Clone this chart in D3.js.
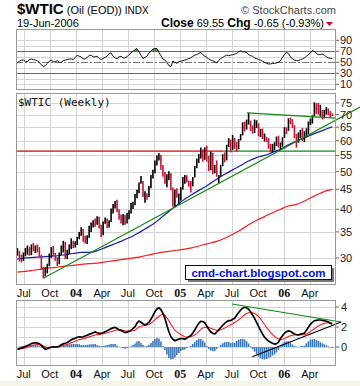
<!DOCTYPE html>
<html><head><meta charset="utf-8">
<script src="https://cdn.jsdelivr.net/npm/d3@7"></script>
<style>body{margin:0;background:#fff}svg{display:block}</style>
</head><body><svg id="c" width="360" height="386"></svg>
<script>
// ---------- DATA ----------
const firstWeek = "2003-06-09";
const highs = [31.8,31.3,30.6,31.0,31.8,32.3,32.0,32.5,32.8,32.3, 32.5,32.0,30.6,28.5,28.4,29.0,30.8,32.0,32.2,30.9,
30.2,31.0,32.3,33.2,33.0,31.5,32.5,33.7,33.2,33.1, 34.0,35.0,36.0,35.6,34.2,34.3,36.3,37.0,37.5,37.9,
38.4,38.3,36.5,37.2,38.1,37.9,37.5,40.2,41.3,42.0, 42.3,40.0,38.8,38.9,38.7,39.2,39.8,41.5,41.8,43.8,
44.9,46.9,48.7,47.3,44.5,44.0,45.9,49.0,50.5,53.4, 55.0,55.7,55.2,52.0,49.9,49.2,50.1,49.5,45.5,45.0,
45.3,43.9,45.6,48.4,49.0,48.9,47.4,47.3,48.4,51.7, 54.0,55.5,57.6,57.0,57.7,58.3,54.9,56.3,55.9,52.0,
53.4,49.0,52.0,55.4,56.0,58.6,60.9,60.4,62.1,61.0, 59.6,60.6,62.4,66.9,67.1,68.0,70.8,67.6,65.7,68.0,
67.7,66.5,64.4,64.5,62.6,61.4,61.0,58.9,58.9,59.5, 61.5,61.8,59.4,61.2,65.0,64.9,68.5,68.8,68.2,65.8,
62.4,63.0,64.0,64.7,63.4,64.6,67.2,68.4,69.7,75.3, 74.9,75.0,74.2,72.0,72.0,73.2,72.6,71.5,70.6];
const lows = [30.4,29.4,29.2,29.5,30.3,30.6,30.4,30.5,31.2,30.9, 31.0,30.2,28.0,26.6,26.9,27.4,28.6,30.0,30.4,29.5,
28.6,28.9,30.5,31.0,29.8,29.8,30.7,31.6,31.8,31.9, 32.4,33.5,34.2,33.0,32.7,32.6,33.8,35.0,35.9,36.1,
36.5,35.7,33.9,34.3,36.7,35.8,35.9,37.1,39.0,40.2, 39.3,37.6,36.8,36.4,36.5,36.8,37.7,39.0,40.1,41.0,
42.7,44.0,46.5,43.0,41.6,42.3,43.0,45.3,48.0,49.5, 51.8,53.4,50.5,48.5,46.5,45.6,47.5,44.8,40.6,40.5,
42.8,41.2,42.1,45.0,46.5,46.9,45.7,44.2,45.8,48.3, 51.0,52.6,54.0,53.0,53.6,53.0,50.1,50.4,49.2,49.5,
48.5,46.6,48.6,51.6,52.8,53.4,57.8,56.0,56.8,57.2, 56.2,57.0,60.1,61.9,63.4,64.1,66.0,63.6,62.6,62.8,
64.7,61.6,61.3,60.6,59.7,59.5,57.2,56.0,56.2,56.7, 58.2,57.6,57.0,57.9,61.0,62.4,63.6,66.1,64.6,60.9,
57.6,59.3,60.8,59.9,59.5,61.3,62.3,65.8,66.4,69.3, 70.3,70.0,69.2,68.0,68.4,70.0,69.8,68.8,69.4];
const closes = [31.2,30.0,29.9,30.8,31.1,31.9,30.7,32.3,31.5,31.7, 31.4,30.4,28.3,27.0,28.1,28.7,30.5,31.3,30.7,29.9,
29.2,30.9,31.3,32.7,30.4,31.0,32.1,33.0,32.5,32.6, 33.8,34.6,35.2,33.1,33.0,33.9,35.6,36.2,37.3,36.4,
38.1,35.8,34.4,37.1,37.7,36.5,37.3,39.9,40.0,41.4, 39.9,38.5,37.6,38.7,37.0,38.4,39.5,40.9,41.6,43.6,
44.4,46.6,47.9,43.2,43.9,42.9,45.6,48.9,50.1,53.3, 54.9,55.2,51.8,49.6,47.3,48.4,49.4,45.4,41.0,44.3,
43.4,43.5,45.4,48.4,48.5,47.2,46.5,45.5,48.4,51.5, 53.8,54.4,56.7,54.4,57.3,53.3,50.5,55.4,49.7,50.9,
48.7,48.7,51.9,55.0,53.5,58.5,59.8,56.5,59.6,58.1, 57.5,60.6,62.3,66.9,65.4,66.1,67.6,64.1,63.0,64.2,
66.2,61.8,62.6,60.7,61.3,60.6,57.5,56.3,58.7,59.3, 61.4,58.1,58.4,61.0,64.2,63.9,68.4,67.8,65.4,61.1,
59.9,61.1,63.7,60.0,62.6,64.2,66.6,67.4,69.3,75.2, 71.9,70.2,72.0,68.5,71.4,72.3,71.1,70.2,69.55];
const rsi = [49,52,54,54,52,51,55,56,55,54, 53,49,46,42,44,48,52,54,51,51, 53,50,50,53,54,55,56,56,55,59,
63,61,60,56,56,59,62,63,60,60, 61,57,55,57,59,61,66,67,61,58, 57,60,61,58,58,60,64,67,70,73,
75,69,63,57,59,61,67,70,74,75, 75,68,62,56,54,50,44,42,52,50, 48,51,52,53,54,55,57,58,61,63,
64,66,68,64,61,59,56,54,53,51, 49,53,57,59,61,63,62,63,64,65, 66,69,71,69,69,68,64,62,61,58,
57,55,54,52,50,48,47,47,48,48, 49,50,53,59,64,68,66,60,56,54, 53,53,55,56,58,61,64,67,71,70,
66,64,64,65,63,60,58,57,57];
const macd = [-0.22,-0.16,-0.09,-0.04,0.05,0.14,0.23,0.34,0.40,0.43, 0.40,0.32,0.15,-0.03,-0.22,-0.17,-0.10,0.00,0.02,0.00,
0.02,0.08,0.22,0.31,0.37,0.46,0.58,0.72,0.81,0.87, 0.97,1.02,0.98,1.02,1.10,1.18,1.26,1.34,1.42,1.50,
1.42,1.37,1.37,1.43,1.53,1.63,1.73,1.84,1.91,1.97, 1.85,1.73,1.66,1.55,1.43,1.49,1.56,1.67,1.83,2.03,
2.39,2.60,2.47,2.33,2.20,2.30,2.47,2.77,3.13,3.53, 3.80,3.92,3.75,3.37,2.87,2.17,1.53,1.03,0.77,0.63,
0.71,0.79,0.85,0.83,0.77,0.89,1.02,1.15,1.40,1.70, 2.06,2.37,2.56,2.55,2.43,2.10,1.77,1.52,1.38,1.30,
1.50,1.71,1.95,2.17,2.37,2.53,2.63,2.63,2.78,2.87, 3.17,3.45,3.69,3.89,3.97,3.91,3.78,3.52,3.20,2.87,
2.47,2.07,1.66,1.30,0.97,0.77,0.59,0.47,0.38,0.30, 0.34,0.49,0.85,1.13,1.37,1.53,1.61,1.56,1.43,1.30,
1.25,1.21,1.28,1.33,1.37,1.67,1.97,2.27,2.47,2.63, 2.67,2.70,2.70,2.67,2.63,2.57,2.50,2.37,2.30];
const signal = [-0.24,-0.21,-0.17,-0.14,-0.09,-0.03,0.03,0.12,0.18,0.23, 0.25,0.24,0.20,0.12,0.00,-0.04,-0.04,-0.02,-0.01,-0.01,
0.00,0.03,0.10,0.15,0.20,0.26,0.33,0.42,0.51,0.58, 0.67,0.74,0.78,0.84,0.90,0.96,1.01,1.07,1.14,1.20,
1.24,1.25,1.29,1.33,1.38,1.43,1.48,1.54,1.61,1.67, 1.70,1.70,1.69,1.65,1.61,1.59,1.59,1.60,1.63,1.68,
1.84,2.00,2.07,2.13,2.15,2.20,2.25,2.37,2.53,2.73, 2.90,3.07,3.20,3.27,3.17,2.92,2.63,2.28,1.97,1.68,
1.51,1.39,1.25,1.13,1.02,0.99,1.00,1.05,1.10,1.20, 1.36,1.57,1.76,1.90,1.98,2.00,1.97,1.87,1.80,1.72,
1.68,1.69,1.73,1.79,1.89,2.01,2.13,2.23,2.33,2.45, 2.57,2.72,2.89,3.07,3.22,3.34,3.43,3.45,3.42,3.34,
3.22,3.05,2.81,2.52,2.22,1.97,1.71,1.47,1.24,1.05, 0.89,0.79,0.75,0.78,0.85,0.95,1.05,1.13,1.18,1.20,
1.20,1.20,1.20,1.22,1.24,1.30,1.40,1.54,1.69,1.83, 1.97,2.10,2.22,2.30,2.36,2.40,2.42,2.42,2.40];
const maWeeks = [0,4,8,12,16,20,24,28,32,36, 40,44,48,52,56,60,64,68,72,76, 80,84,88,92,96,100,104,108,112,116,
120,124,128,132,136,140,144,148,152,156, 158];
const ma50 = [29.8,30.0,30.1,30.2,30.3,30.4,30.6,30.8,31.0,31.0, 31.3,31.9,32.5,33.1,33.8,34.6,35.6,36.6,38.0,39.5,
41.0,42.5,43.8,45.0,46.3,47.8,49.2,50.5,51.8,53.2, 54.3,55.0,56.0,57.0,58.6,59.9,61.0,62.3,63.4,64.6, 65.1];
const ma200 = [27.6,27.7,27.9,28.1,28.3,28.4,28.6,28.7,28.9,29.0, 29.1,29.3,29.5,29.7,29.9,30.1,30.4,30.7,31.0,31.2,
31.4,31.6,31.9,32.3,32.7,33.1,33.7,34.5,35.4,36.5, 37.5,38.3,39.2,40.0,40.8,41.2,42.0,43.0,44.0,44.8, 45.0];
const priceTicks = [30,35,40,45,50,55,60,65,70,75];
const rsiTicks = [90,70,50,30,10];
const macdTicks = [4,2,0];
const upTrend = [["2003-09-08",26.6],["2006-06-19",67.0]];
const resistance = [["2005-08-24",70.7],["2006-07-02",68.6]];
const supportLevel = 56.4, supportRedUntil = "2005-06-03";
const macdDown = [["2005-07-02",4.3],["2006-07-20",2.5]];
const macdUp = [["2005-09-11",-0.97],["2006-07-20",2.5]];

// ---------- LAYOUT ----------
const L = 16, R = 336;
const P = {rsi:[29,90], price:[93,285], macd:[300,366]};
const svg = d3.select("#c");
const pd = d3.timeParse("%Y-%m-%d");
const start = pd(firstWeek);
const dates = closes.map((_, i) => d3.timeDay.offset(start, 7 * i));
const x = d3.scaleTime().domain([pd("2003-06-04"), pd("2006-07-02")]).range([L, R]);
const yP = d3.scaleLog().domain([25.57, 79.55]).range([285, 93]);
const yR = d3.scaleLinear().domain([0, 100]).range([89.8, 34.8]);
const yM = d3.scaleLinear().domain([-1.9, 4.7]).range([366, 300]);
const font = "Liberation Sans, Arial, sans-serif";

svg.append("rect").attr("width",360).attr("height",386).attr("fill","#fff");
svg.append("rect").attr("x",0).attr("y",381).attr("width",360).attr("height",5).attr("fill","#f6f5e6");

const defs = svg.append("defs");
Object.entries(P).forEach(([k,[t,b]]) => {
  defs.append("clipPath").attr("id","clip-"+k).append("rect").attr("x",L).attr("y",t).attr("width",R-L).attr("height",b-t);
});

const quarters = d3.timeMonth.every(3).range(x.domain()[0], x.domain()[1]);

function gridPanel(key, yScale, ticks) {
  const [t,b] = P[key];
  const g = svg.append("g");
  quarters.forEach(d => {
    const xx = Math.round(x(d)) + 0.5;
    if (xx > L + 1 && xx < R - 1)
      g.append("line").attr("x1",xx).attr("x2",xx).attr("y1",t).attr("y2",b).attr("stroke","#d4d4d4");
  });
  ticks.forEach(v => {
    const yy = Math.round(yScale(v)) + 0.5;
    g.append("line").attr("x1",L).attr("x2",R).attr("y1",yy).attr("y2",yy).attr("stroke","#d4d4d4");
  });
  return g;
}

// ---- RSI panel ----
gridPanel("rsi", yR, [10,20,40,60,80,90]);
[70,30].forEach(v => svg.append("line").attr("x1",L).attr("x2",R).attr("y1",Math.round(yR(v))+0.5).attr("y2",Math.round(yR(v))+0.5).attr("stroke","#666"));
svg.append("line").attr("x1",L).attr("x2",R).attr("y1",Math.round(yR(50))+0.5).attr("y2",Math.round(yR(50))+0.5)
  .attr("stroke","#777").attr("stroke-dasharray","7,2,2,2");
const rsiG = svg.append("g").attr("clip-path","url(#clip-rsi)");
defs.append("clipPath").attr("id","clip-ob").append("rect").attr("x",L).attr("y",P.rsi[0]).attr("width",R-L).attr("height",yR(70)-P.rsi[0]);
rsiG.append("path").datum(rsi).attr("clip-path","url(#clip-ob)")
  .attr("d", d3.area().x((d,i)=>x(dates[i])).y0(yR(70)).y1(d=>yR(d))).attr("fill","#4c9a4c");
rsiG.append("path").datum(rsi).attr("d", d3.line().x((d,i)=>x(dates[i])).y(d=>yR(d)))
  .attr("fill","none").attr("stroke","#111").attr("stroke-width",1);
rsiTicks.forEach(v => {
  svg.append("line").attr("x1",R).attr("x2",R+3).attr("y1",yR(v)).attr("y2",yR(v)).attr("stroke","#666");
  svg.append("text").attr("x",R+4).attr("y",yR(v)+4).attr("font-family",font).attr("font-size",11).attr("fill","#222").text(v);
});

// ---- Price panel ----
gridPanel("price", yP, priceTicks);
const pg = svg.append("g").attr("clip-path","url(#clip-price)");
// support line (red then green)
const ys = yP(supportLevel);
pg.append("line").attr("x1",L).attr("x2",x(pd(supportRedUntil))).attr("y1",ys).attr("y2",ys).attr("stroke","#e00000").attr("stroke-width",1.2);
pg.append("line").attr("x1",x(pd(supportRedUntil))).attr("x2",R).attr("y1",ys).attr("y2",ys).attr("stroke","#118811").attr("stroke-width",1.2);
// moving averages
const maLine = arr => d3.line().curve(d3.curveMonotoneX).x((d,k)=>x(dates[maWeeks[k]])).y(d=>yP(d))(arr);
pg.append("path").attr("d", maLine(ma200)).attr("fill","none").attr("stroke","#ff1a1a").attr("stroke-width",1.2);
pg.append("path").attr("d", maLine(ma50)).attr("fill","none").attr("stroke","#1c1caa").attr("stroke-width",1.2);
// bars
closes.forEach((c,i) => {
  const up = i === 0 || c >= closes[i-1];
  const xx = x(dates[i]);
  pg.append("line").attr("x1",xx).attr("x2",xx).attr("y1",yP(highs[i])).attr("y2",yP(lows[i]))
    .attr("stroke", up ? "#000" : "#cc1133").attr("stroke-width",1.6);
});
// resistance line
pg.append("line").attr("x1",x(pd(resistance[0][0]))).attr("y1",yP(resistance[0][1]))
  .attr("x2",x(pd(resistance[1][0]))).attr("y2",yP(resistance[1][1])).attr("stroke","#118811").attr("stroke-width",1.2);
// rising trend line, extended to the picture edge
function extended(pts, xs, ys, xEnd) {
  const p1=[xs(pd(pts[0][0])), ys(pts[0][1])], p2=[xs(pd(pts[1][0])), ys(pts[1][1])];
  const s=(p2[1]-p1[1])/(p2[0]-p1[0]);
  return [p1, [xEnd, p1[1]+s*(xEnd-p1[0])]];
}
const ut = extended(upTrend, x, yP, 360);
svg.append("line").attr("x1",ut[0][0]).attr("y1",ut[0][1]).attr("x2",ut[1][0]).attr("y2",ut[1][1]).attr("stroke","#118811").attr("stroke-width",1.1);
svg.append("text").attr("x",18).attr("y",106).attr("font-family","DejaVu Sans Mono, monospace").attr("font-size",11).attr("fill","#111").text("$WTIC (Weekly)");
priceTicks.forEach(v => {
  svg.append("line").attr("x1",R).attr("x2",R+3).attr("y1",yP(v)).attr("y2",yP(v)).attr("stroke","#666");
  svg.append("text").attr("x",R+4).attr("y",yP(v)+4).attr("font-family",font).attr("font-size",11).attr("fill","#222").text(v);
});

// watermark box
svg.append("rect").attr("x",188).attr("y",268).attr("width",146).attr("height",14).attr("fill","#777");
svg.append("rect").attr("x",185.5).attr("y",265.5).attr("width",146).attr("height",14).attr("fill","#fff").attr("stroke","#111");
svg.append("text").attr("x",258.5).attr("y",277).attr("text-anchor","middle").attr("font-family",font).attr("font-weight","bold")
  .attr("font-size",11.5).attr("fill","#0010e0").text("cmd-chart.blogspot.com");

// ---- MACD panel ----
gridPanel("macd", yM, [-1,1,3,4,2,0]);
const mg = svg.append("g").attr("clip-path","url(#clip-macd)");
macd.forEach((m,i) => {
  const h = m - signal[i];
  const xx = x(dates[i]);
  mg.append("rect").attr("x",xx-0.8).attr("width",1.6).attr("y",yM(Math.max(h,0))).attr("height",Math.abs(yM(h)-yM(0)))
    .attr("fill","#3f7ab8");
});
mg.append("path").datum(signal).attr("d", d3.line().x((d,i)=>x(dates[i])).y(d=>yM(d))).attr("fill","none").attr("stroke","#ff1a1a").attr("stroke-width",1.1);
mg.append("path").datum(macd).attr("d", d3.line().x((d,i)=>x(dates[i])).y(d=>yM(d))).attr("fill","none").attr("stroke","#000").attr("stroke-width",1.7);
[[macdDown,"#118811"],[macdUp,"#000"]].forEach(([pts,col]) => {
  svg.append("line").attr("x1",x(pd(pts[0][0]))).attr("y1",yM(pts[0][1])).attr("x2",x(pd(pts[1][0]))).attr("y2",yM(pts[1][1]))
    .attr("stroke",col).attr("stroke-width",1.1);
});
macdTicks.forEach(v => {
  svg.append("line").attr("x1",R).attr("x2",R+3).attr("y1",yM(v)).attr("y2",yM(v)).attr("stroke","#666");
  svg.append("text").attr("x",R+5).attr("y",yM(v)+4).attr("font-family",font).attr("font-size",11).attr("fill","#222").text(v);
});

// panel frames
Object.values(P).forEach(([t,b]) => {
  svg.append("rect").attr("x",L+0.5).attr("y",t+0.5).attr("width",R-L-1).attr("height",b-t-1).attr("fill","none").attr("stroke","#999");
});

// x-axis labels
function xLabels(yBase) {
  quarters.forEach(d => {
    const xx = x(d);
    if (xx < L || xx > R - 6) return;
    const m = d.getMonth();
    const t = svg.append("text").attr("x",xx).attr("y",yBase).attr("text-anchor","middle").attr("fill","#111");
    if (m === 0) t.attr("font-family","Liberation Serif, Times New Roman, serif").attr("font-weight","bold").attr("font-size",12).text(d3.timeFormat("%y")(d));
    else t.attr("font-family",font).attr("font-size",11).text(d3.timeFormat("%b")(d));
  });
}
xLabels(297);
xLabels(378);

// ---- header ----
const h1 = svg.append("text").attr("x",17).attr("y",14).attr("font-family",font).attr("fill","#000");
h1.append("tspan").attr("font-weight","bold").attr("font-size",15).text("$WTIC");
h1.append("tspan").attr("font-size",11).text(" (Oil (EOD)) ");
h1.append("tspan").attr("font-size",10).text(" INDX");
svg.append("text").attr("x",336).attr("y",14).attr("text-anchor","end").attr("font-family",font).attr("font-size",11).attr("fill","#444").text("© StockCharts.com");
svg.append("text").attr("x",17).attr("y",27).attr("font-family",font).attr("font-size",11).attr("fill","#000").text("19-Jun-2006");
const h2 = svg.append("text").attr("x",324).attr("y",27).attr("text-anchor","end").attr("font-family",font).attr("font-size",11).attr("fill","#000");
h2.append("tspan").attr("font-weight","bold").attr("font-size",12).text("Close");
h2.append("tspan").text(" 69.55 ");
h2.append("tspan").attr("font-weight","bold").attr("font-size",12).text("Chg");
h2.append("tspan").text(" -0.65 (-0.93%)");
svg.append("path").attr("d","M326,22 L333,22 L329.5,26 Z").attr("fill","#cc0033");
</script></body></html>
